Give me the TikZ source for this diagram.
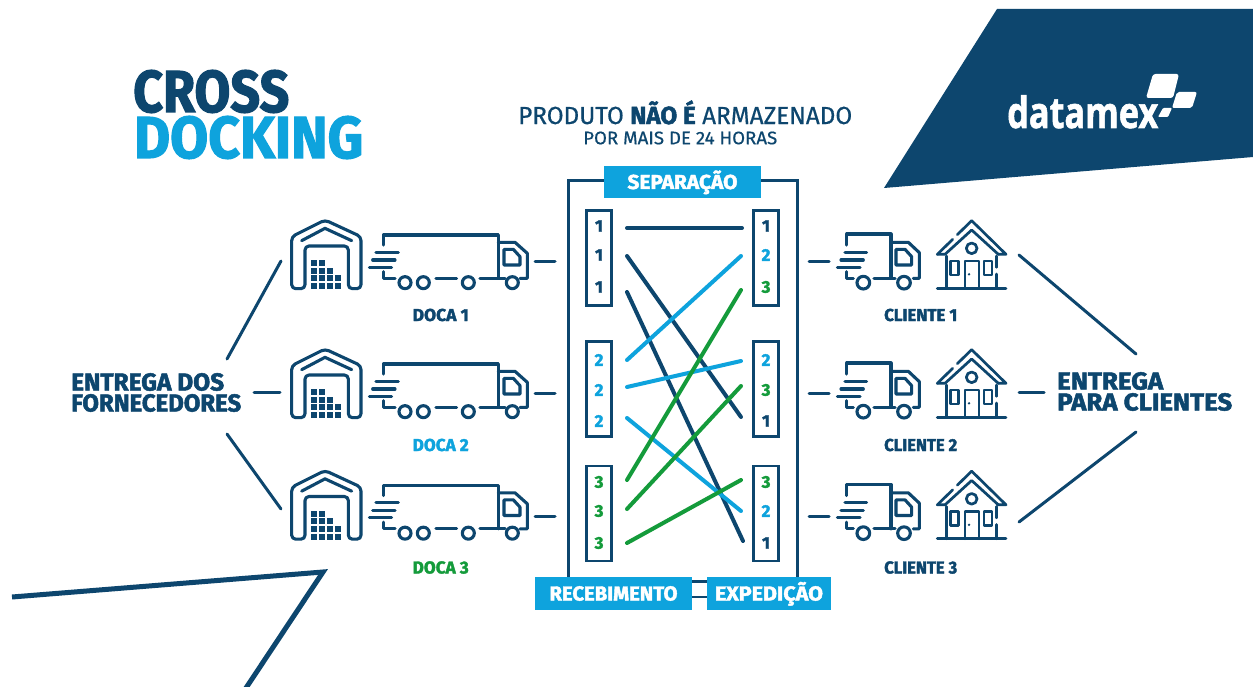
\documentclass[tikz,border=0pt]{standalone}
\usepackage{graphicx}
\usepackage{fontspec}
\setmainfont{Fira Sans}[UprightFeatures={FakeBold=0.5},BoldFeatures={FakeBold=2}]
\definecolor{navy}{HTML}{0D466E}
\definecolor{sky}{HTML}{0EA3DD}
\definecolor{grn}{HTML}{149B3B}
\newcommand\fitt[3]{\resizebox{#1pt}{#2pt}{\smash{#3}\vphantom{H}}}
\tikzset{
  ico/.style={navy,line width=3.1pt,line cap=round,line join=round},
  txt/.style={inner sep=0pt,anchor=west,text=navy,font=\bfseries},
  labelbox/.style={fill=sky,inner sep=0pt,minimum height=32.5pt,text=white,font=\bfseries},
  stack/.style={draw=navy,line width=2.4pt,fill=white,minimum width=25pt,minimum height=95pt,inner sep=0pt},
  digit/.style={inner sep=0pt,font=\fontsize{17}{17}\bfseries},
  conn/.style={navy,line width=3pt,line cap=round},
  flow/.style={line width=4pt,line cap=round},
  warehouse/.pic={
    \begin{scope}[scale=1/3,ico]
      \draw[rounded corners=4pt] (35,80) -- (135,30) -- (243,80) -- (243,236) -- (205,236) -- (205,108) -- (75,108) -- (75,236) -- (35,236) -- cycle;
      \draw (65,92) -- (135,55) -- (215,92);
      \foreach \gx/\gy in {102/160,126/160,102/182,126/182,150/182,102/205,126/205,150/205,175/205,102/228,126/228,150/228,175/228}
        \fill[navy] (\gx-9,\gy-9) rectangle (\gx+9,\gy+9);
    \end{scope}},
  bigtruck/.pic={
    \begin{scope}[scale=1/3,ico]
      \draw (310,105) -- (310,75) -- (655,75) -- (655,205);
      \draw (310,185) -- (310,205) -- (345,205);
      \draw (468,205) -- (530,205);
      \draw (600,205) -- (675,205);
      \draw (720,205) -- (742,205) -- (742,130) -- (705,97) -- (655,97);
      \draw (672,118) -- (700,118) -- (720,140) -- (720,165) -- (672,165) -- cycle;
      \draw (288,127) -- (355,127);
      \draw (278,150) -- (345,150);
      \draw (268,172) -- (335,172);
      \foreach \wx in {375,430,565,697} \draw (\wx,218) circle[radius=18];
    \end{scope}},
  smalltruck/.pic={
    \begin{scope}[scale=1/3,ico]
      \draw (50,105) -- (50,72) -- (183,72) -- (183,205);
      \draw (50,185) -- (50,205) -- (70,205);
      \draw (132,205) -- (195,205);
      \draw (183,97) -- (235,97) -- (268,128) -- (268,205) -- (250,205);
      \draw (198,118) -- (225,118) -- (245,140) -- (245,165) -- (198,165) -- cycle;
      \draw (45,127) -- (110,127);
      \draw (33,150) -- (100,150);
      \draw (22,172) -- (90,172);
      \foreach \wx in {100,222} \draw (\wx,218) circle[radius=19];
    \end{scope}},
  house/.pic={
    \begin{scope}[scale=1/3,ico,line width=2.7pt]
      \draw (322,133) -- (368,88);
      \draw (382,74) -- (425,32) -- (528,133) -- (505,133);
      \draw (322,133) -- (345,133) -- (425,60) -- (505,133);
      \draw (350,138) -- (350,235);
      \draw (500,138) -- (500,172);
      \draw (500,192) -- (500,235);
      \draw (322,235) -- (528,235);
      \draw (425,115) circle[radius=16];
      \draw (362,153) rectangle (386,195);
      \draw (462,153) rectangle (486,195);
      \draw (405,235) -- (405,153) -- (447,153) -- (447,235);
      \fill[navy] (417,193) circle[radius=4];
    \end{scope}}
}
\begin{document}
\begin{tikzpicture}[x=1pt,y=-1pt]
\path[use as bounding box,fill=white] (0,0) rectangle (1253,687);
% corner shapes
\fill[navy] (997,9) -- (1253,9) -- (1253,157) -- (884,188) -- cycle;
\begin{scope}
  \clip (0,0) rectangle (1253,687);
  \draw[navy,line width=5pt,line join=miter] (12,597) -- (323,572) -- (240,697);
\end{scope}
% logo
\node[txt,text=white] (logo) at (1007,113) {\fitt{151}{30}{\fontspec{Open Sans}[BoldFeatures={FakeBold=1.5}]\bfseries datamex}};
\fill[white,rounded corners=2.5pt] (1153,74) -- (1179,74) -- (1173,98) -- (1146,98) -- cycle;
\fill[white,rounded corners=2pt] (1177,92) -- (1197,92) -- (1192,108) -- (1172,108) -- cycle;
\fill[white,rounded corners=1pt] (1163,108) -- (1172,108) -- (1168,117) -- (1158,117) -- cycle;
% titles
\node[txt] (cross) at (133,91.5) {\fitt{156}{41}{CROSS}};
\node[txt,text=sky] (docking) at (134,137.5) {\fitt{229}{41}{DOCKING}};
\node[txt,font=\normalfont] (prod) at (518,115.5) {\fitt{334}{17}{PRODUTO \textbf{NÃO É} ARMAZENADO}};
\node[txt,font=\normalfont] (pormais) at (583,138) {\fitt{194}{12.5}{POR MAIS DE 24 HORAS}};
\node[txt] (ent1) at (71,382) {\fitt{153}{17}{ENTREGA DOS}};
\node[txt] (ent2) at (71,403) {\fitt{170}{17}{FORNECEDORES}};
\node[txt] (cli1) at (1057,381) {\fitt{106}{17}{ENTREGA}};
\node[txt] (cli2) at (1057,402) {\fitt{175}{17}{PARA CLIENTES}};
% icons
\foreach \dy in {0,129,250.5} {
  \pic at (280,210+\dy) {warehouse};
  \pic at (280,210+\dy) {bigtruck};
  \pic at (830,210+\dy) {smalltruck};
  \pic at (830,210+\dy) {house};
}
% row labels
\node[txt] (doca1) at (412.5,315) {\fitt{56}{12}{DOCA 1}};
\node[txt,text=sky] (doca2) at (412.5,445) {\fitt{56}{12}{DOCA 2}};
\node[txt,text=grn] (doca3) at (412.5,567.5) {\fitt{56}{12}{DOCA 3}};
\node[txt] (cl1) at (884,315) {\fitt{73}{12}{CLIENTE 1}};
\node[txt] (cl2) at (884,445) {\fitt{73}{12}{CLIENTE 2}};
\node[txt] (cl3) at (884,567.5) {\fitt{73}{12}{CLIENTE 3}};
% frame
\node[draw=navy,line width=3pt,minimum width=229pt,minimum height=400pt,inner sep=0pt] (frame) at (682.5,381) {};
\node[labelbox,minimum width=157pt] (sep) at (682.5,182) {\fitt{110}{14}{SEPARAÇÃO}};
\node[labelbox,minimum width=157pt] (rec) at (613.5,593.5) {\fitt{128}{14}{RECEBIMENTO}};
\node[labelbox,minimum width=124pt] (exp) at (769,593.5) {\fitt{108}{14}{EXPEDIÇÃO}};
\draw[navy,line width=2.5pt] ([yshift=-3.5pt]rec.east) -- ([yshift=-3.5pt]exp.west);
% stacks
\node[stack] (sl1) at (599,258) {};
\node[stack] (sl2) at (599,389) {};
\node[stack] (sl3) at (599,513.5) {};
\node[stack] (sr1) at (766,258) {};
\node[stack] (sr2) at (766,389) {};
\node[stack] (sr3) at (766,513.5) {};
\foreach \n/\y/\t/\c in {a/226/1/navy,b/255/1/navy,c/287/1/navy,d/360/2/sky,e/390/2/sky,f/421/2/sky,g/482/3/grn,h/511/3/grn,i/543/3/grn}
  \node[digit,text=\c] (L\n) at (599,\y) {\t};
\foreach \n/\y/\t/\c in {a/226/1/navy,b/255/2/sky,c/287/3/grn,d/360/2/sky,e/390/3/grn,f/421/1/navy,g/482/3/grn,h/511/2/sky,i/543/1/navy}
  \node[digit,text=\c] (R\n) at (766,\y) {\t};
% flows
\foreach \n/\xa/\ya/\xb/\yb in {f1/627/228/742/228,f2/627/256/741/417,f3/627/292/743/541,f4/627/360/741/256,f5/627/387/741/361,f6/627/418/741/511,f7/627/480/741/290,f8/627/509/741/386,f9/627/543/741/480} {
  \coordinate (\n s) at (\xa,\ya);
  \coordinate (\n e) at (\xb,\yb);
}
\draw[flow,navy] (f1s) -- (f1e);
\draw[flow,navy] (f2s) -- (f2e);
\draw[flow,navy] (f3s) -- (f3e);
\draw[flow,sky] (f4s) -- (f4e);
\draw[flow,sky] (f5s) -- (f5e);
\draw[flow,sky] (f6s) -- (f6e);
\draw[flow,grn] (f7s) -- (f7e);
\draw[flow,grn] (f8s) -- (f8e);
\draw[flow,grn] (f9s) -- (f9e);
% outer connectors
\foreach \n/\xa/\ya/\xb/\yb in {c1/535/261/555/261,c2/535/393/555/393,c3/535/516/555/516,c4/809/261/829/261,c5/809/393/829/393,c6/809/516/829/516,c7/254/392/280/392,c8/1019/392/1044/392,c9/281/261/227/359,c10/227/434/281/509,c11/1019/255/1136/354,c12/1136/432/1019/522} {
  \coordinate (\n s) at (\xa,\ya);
  \coordinate (\n e) at (\xb,\yb);
}
\foreach \n in {c1,c2,c3,c4,c5,c6,c7,c8,c9,c10,c11,c12}
  \draw[conn] (\n s) -- (\n e);
\end{tikzpicture}
\end{document}
